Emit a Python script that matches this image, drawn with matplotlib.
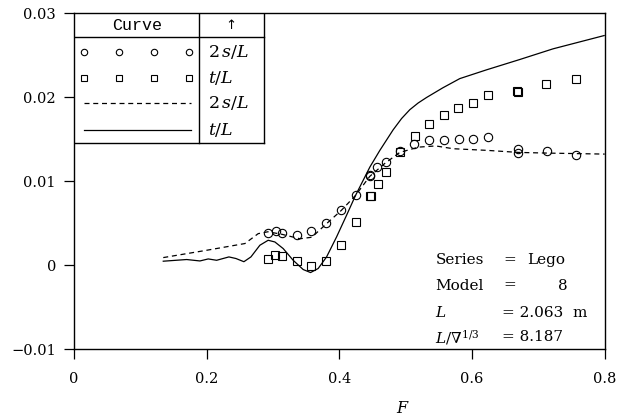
"""Wave profile ratios versus Froude number, Lego series model 8"""

import matplotlib

matplotlib.use("Agg")
import matplotlib.pyplot as plt
from matplotlib.lines import Line2D

plt.rcParams["font.family"] = ["DejaVu Serif"]
plt.rcParams["mathtext.fontset"] = "dejavuserif"

# measured 2s/L (circles)
circle_f = [0.2925, 0.304, 0.3144, 0.336, 0.3577, 0.3806, 0.4026, 0.4246,
            0.4462, 0.447, 0.4573, 0.4698, 0.4918, 0.5133, 0.5356, 0.5581,
            0.5802, 0.6023, 0.6246, 0.6692, 0.6692, 0.7129, 0.7577]
circle_v = [0.00388, 0.00412, 0.00388, 0.00356, 0.0041, 0.00499, 0.00653,
            0.00841, 0.01070, 0.01064, 0.01167, 0.01223, 0.01357, 0.01437,
            0.01485, 0.01485, 0.0150, 0.0150, 0.01524, 0.01381, 0.01338,
            0.01356, 0.01316]

# measured t/L (squares)
square_f = [0.2919, 0.303, 0.314, 0.3356, 0.3572, 0.3803, 0.4024, 0.4246,
            0.4468, 0.4475, 0.4577, 0.4698, 0.4917, 0.514, 0.535, 0.5577,
            0.5798, 0.6018, 0.624, 0.6687, 0.6690, 0.7124, 0.757]
square_v = [0.00071, 0.00119, 0.00107, 0.00056, -0.00008, 0.00056, 0.00238,
            0.00514, 0.00826, 0.00820, 0.0097, 0.01105, 0.01342, 0.01532,
            0.01683, 0.0179, 0.01873, 0.01928, 0.02023, 0.02070, 0.02064,
            0.02158, 0.02217]

# computed 2s/L (dashed)
dashed_f = [0.1346, 0.2, 0.2577, 0.2778, 0.2924, 0.3135, 0.3406, 0.3587,
            0.3809, 0.4032, 0.4246, 0.446, 0.4687, 0.4913, 0.5197, 0.5456,
            0.5717, 0.6237, 0.67, 0.7135, 0.8003]
dashed_v = [0.00091, 0.00178, 0.00258, 0.00376, 0.00398, 0.00368, 0.00315,
            0.00333, 0.00495, 0.00653, 0.00831, 0.01057, 0.01211, 0.01342,
            0.01405, 0.01419, 0.01386, 0.01366, 0.01342, 0.01334, 0.01322]

# computed t/L (solid)
solid_f = [0.1346, 0.1699, 0.1899, 0.2024, 0.2151, 0.2336, 0.2442, 0.2562,
           0.2668, 0.2803, 0.2928, 0.3029, 0.3155, 0.3305, 0.3456, 0.3567,
           0.3682, 0.3809, 0.3959, 0.411, 0.4246, 0.4461, 0.4612, 0.4812,
           0.4940, 0.5064, 0.5190, 0.5316, 0.5561, 0.5818, 0.622, 0.6722,
           0.7224, 0.7995]
solid_v = [0.00048, 0.00068, 0.00051, 0.00075, 0.00059, 0.00099, 0.0008,
           0.00042, 0.00099, 0.00238, 0.00297, 0.00277, 0.00198, 0.00059,
           -0.00051, -0.00087, -0.00039, 0.00099, 0.00336, 0.00594, 0.00831,
           0.01167, 0.01366, 0.01610, 0.01745, 0.01850, 0.01930, 0.01995,
           0.02110, 0.02220, 0.02324, 0.02447, 0.02574, 0.02732]

x_ticks = [0, 0.2, 0.4, 0.6, 0.8]
x_tick_labels = ["0", "0.2", "0.4", "0.6", "0.8"]
y_ticks = [-0.01, 0, 0.01, 0.02, 0.03]
y_tick_labels = ["\u22120.01", "0", "0.01", "0.02", "0.03"]

legend_labels = [r"$2\,s/L$", r"$t/L$", r"$2\,s/L$", r"$t/L$"]
info_names = ["Series", "Model", r"$L$", r"$L/\nabla^{1/3}$"]


def _draw_key(ax):
    """Draw the boxed curve key in the top left corner"""
    tr = ax.transAxes
    right, divider = 0.3576, 0.2353
    head, bottom = 0.9277, 0.6125
    for xs, ys in [
        ([0, right], [head, head]),
        ([0, right], [bottom, bottom]),
        ([right, right], [bottom, 1]),
        ([divider, divider], [bottom, 1]),
    ]:
        ax.add_line(Line2D(xs, ys, transform=tr, color="black", lw=1.0))

    ax.text(0.119, 0.964, "Curve", transform=tr, ha="center", va="center",
            family="Liberation Mono", fontsize=12)
    ax.text(0.2963, 0.964, "\u2191", transform=tr, ha="center", va="center",
            family="DejaVu Sans", fontsize=9.5)

    rows = [0.885, 0.8076, 0.7315, 0.652]
    marker_x = [0.0195, 0.0845, 0.151, 0.2177]
    ax.plot(marker_x, [rows[0]] * 4, "o", transform=tr, ms=4.6, mfc="white",
            mec="black", mew=0.8)
    ax.plot(marker_x, [rows[1]] * 4, "s", transform=tr, ms=4.2, mfc="white",
            mec="black", mew=0.8)
    ax.plot([0.0195, 0.2209], [rows[2]] * 2, transform=tr, color="black",
            lw=0.9, dashes=(4, 3))
    ax.plot([0.0195, 0.2209], [rows[3]] * 2, transform=tr, color="black",
            lw=0.9)
    for y, label in zip(rows, legend_labels):
        ax.text(0.252, y, label, transform=tr, ha="left", va="center",
                fontsize=12.5)


def _draw_info(ax):
    """Write the model particulars in the lower right corner"""
    tr = ax.transAxes
    fs = 11
    rows = [0.2706, 0.1942, 0.1139, 0.0396]
    for y, name in zip(rows, info_names):
        ax.text(0.681, y, name, transform=tr, ha="left",
                va="center_baseline", fontsize=fs)
    ax.text(0.822, rows[0], "=", transform=tr, ha="center",
            va="center_baseline", fontsize=fs)
    ax.text(0.8535, rows[0], "Lego", transform=tr, ha="left",
            va="center_baseline", fontsize=fs)
    ax.text(0.822, rows[1], "=", transform=tr, ha="center",
            va="center_baseline", fontsize=fs)
    ax.text(0.931, rows[1], "8", transform=tr, ha="right",
            va="center_baseline", fontsize=fs)
    ax.text(0.806, rows[2], "= 2.063  m", transform=tr, ha="left",
            va="center_baseline", fontsize=fs)
    ax.text(0.806, rows[3], "= 8.187", transform=tr, ha="left",
            va="center_baseline", fontsize=fs)


def main():
    fig = plt.figure(figsize=(6.25, 4.2), dpi=100)
    ax = fig.add_axes([0.1184, 0.1683, 0.8488, 0.8007])

    ax.plot(solid_f, solid_v, color="black", lw=0.9)
    ax.plot(dashed_f, dashed_v, color="black", lw=0.9, dashes=(4, 3))
    ax.plot(circle_f, circle_v, "o", ms=6, mfc="none", mec="black", mew=0.8)
    ax.plot(square_f, square_v, "s", ms=5.5, mfc="none", mec="black",
            mew=0.8)

    ax.set_xlim(0, 0.8)
    ax.set_ylim(-0.01, 0.03)
    ax.set_xticks(x_ticks, x_tick_labels)
    ax.set_yticks(y_ticks, y_tick_labels)
    ax.tick_params(direction="out", length=7, width=0.9, labelsize=10.5,
                   pad=6)
    ax.tick_params(axis="x", pad=9)
    for spine in ax.spines.values():
        spine.set_linewidth(1.0)

    ax.set_xlabel(r"$F$", fontsize=11.5)
    ax.xaxis.set_label_coords(0.62, -0.15)

    _draw_key(ax)
    _draw_info(ax)

    fig.savefig("out.png", dpi=100)
    plt.close(fig)


if __name__ == "__main__":
    main()
